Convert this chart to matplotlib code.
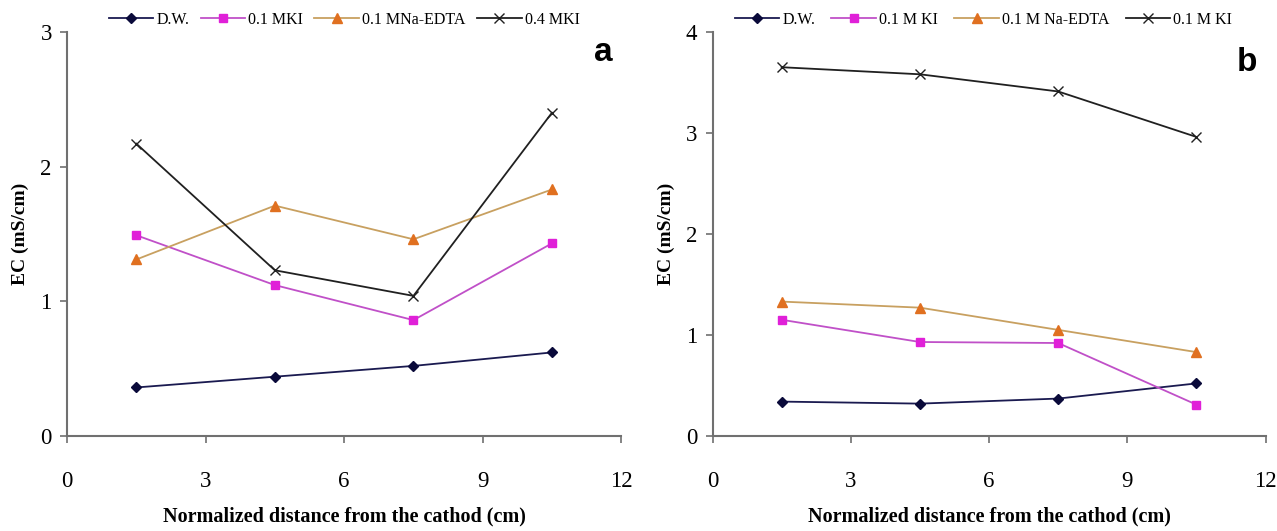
import matplotlib.pyplot as plt

plt.rcParams['font.family'] = ['Liberation Serif', 'DejaVu Serif']

# data
x = [1.5, 4.5, 7.5, 10.5]

a_dw = [0.36, 0.44, 0.52, 0.62]
a_mki = [1.49, 1.12, 0.86, 1.43]
a_edta = [1.31, 1.71, 1.46, 1.83]
a_mki4 = [2.17, 1.23, 1.04, 2.40]
a_labels = ['D.W.', '0.1 MKI', '0.1 MNa-EDTA', '0.4 MKI']

b_dw = [0.34, 0.32, 0.37, 0.52]
b_mki = [1.15, 0.93, 0.92, 0.31]
b_edta = [1.33, 1.27, 1.05, 0.83]
b_mki4 = [3.65, 3.58, 3.41, 2.96]
b_labels = ['D.W.', '0.1 M KI', '0.1 M Na-EDTA', '0.1 M KI']

xticks = [0, 3, 6, 9, 12]

styles = [
    dict(color='#1a1a50', marker='D', markersize=5.5, mfc='#0a0a3a', mec='#0a0a3a'),
    dict(color='#c050c8', marker='s', markersize=6, mfc='#e020d8', mec='#e020d8'),
    dict(color='#c8a060', marker='^', markersize=7, mfc='#e07020', mec='#e07020'),
    dict(color='#202020', marker='x', markersize=7, mfc='#202020', mec='#202020'),
]

fig = plt.figure(figsize=(12.77, 5.31), dpi=100)
ax1 = fig.add_axes([0.0525, 0.179, 0.434, 0.761])
ax2 = fig.add_axes([0.558, 0.179, 0.433, 0.761])


def draw(ax, series, labels, ymax, letter, letter_y, leg_x, colsp):
    for ys, lab, st in zip(series, labels, styles):
        ax.plot(x, ys, label=lab, linewidth=1.3, **st)
    ax.set_xlim(0, 12)
    ax.set_ylim(0, ymax)
    ax.set_xticks(xticks)
    ax.set_yticks(range(ymax + 1))
    for s in ['top', 'right']:
        ax.spines[s].set_visible(False)
    for s in ['left', 'bottom']:
        ax.spines[s].set_color('#707070')
        ax.spines[s].set_linewidth(1.5)
    ax.tick_params(direction='out', length=5, width=1.2, color='#707070',
                   labelsize=16.5, pad=6)
    ax.tick_params(axis='x', pad=20)
    ax.set_xlabel('Normalized distance from the cathod (cm)', fontsize=14.5,
                  fontweight='bold', labelpad=11)
    ax.set_ylabel('EC (mS/cm)', fontsize=14, fontweight='bold', labelpad=8)
    ax.legend(loc='center', bbox_to_anchor=(leg_x, 1.03), ncol=4,
              frameon=False, fontsize=11.5, handlelength=2.8, handletextpad=0.2,
              columnspacing=colsp, borderaxespad=0)
    ax.text(0.985, letter_y, letter, transform=ax.transAxes, fontsize=24,
            fontweight='bold', family='Liberation Sans', ha='right', va='center')


draw(ax1, [a_dw, a_mki, a_edta, a_mki4], a_labels, 3, 'a', 0.95, 0.50, 0.7)
draw(ax2, [b_dw, b_mki, b_edta, b_mki4], b_labels, 4, 'b', 0.925, 0.49, 1.0)

fig.savefig('out.png', dpi=100)
